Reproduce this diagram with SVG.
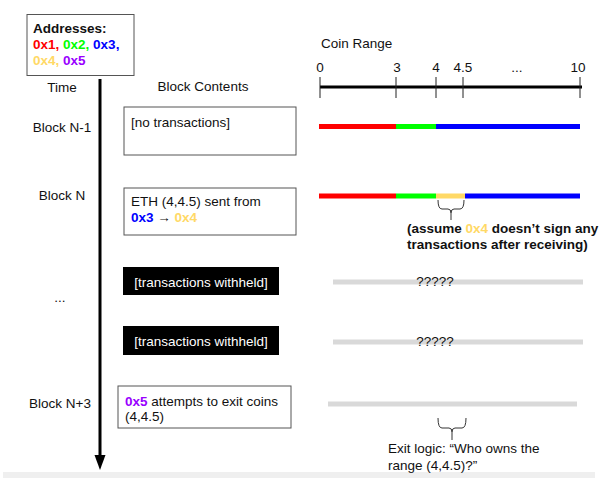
<svg xmlns="http://www.w3.org/2000/svg" width="603" height="478" viewBox="0 0 603 478">
<style>
text{font-family:"Liberation Sans",Arial,sans-serif;font-size:13.5px;fill:#111}
.b{font-weight:bold;font-size:13.5px}
.box{fill:#fff;stroke:#555;stroke-width:1}
.blk{fill:#000}
.wt{fill:#fff}
.red{fill:#ff0000}.grn{fill:#00ff00}.blu{fill:#0000ff}.yel{fill:#ffd966}.pur{fill:#9900ff}
.tick{stroke:#222;stroke-width:1}
.gbar{fill:#d9d9d9}
.brace{fill:none;stroke:#333;stroke-width:1}
</style>
<rect x="3" y="472" width="592" height="6" fill="#efefef"/>
<g id="legend">
<rect class="box" x="27" y="14.5" width="107" height="61" stroke="#444"/>
<text class="b" x="33" y="33">Addresses:</text>
<text class="b" x="33" y="49"><tspan class="red">0x1</tspan><tspan class="red">, </tspan><tspan class="grn">0x2</tspan><tspan class="grn">, </tspan><tspan class="blu">0x3</tspan><tspan class="blu">,</tspan></text>
<text class="b" x="33" y="65"><tspan class="yel">0x4</tspan><tspan class="yel">, </tspan><tspan class="pur">0x5</tspan></text>
</g>
<g id="headers">
<text x="62" y="92" text-anchor="middle">Time</text>
<text x="203" y="91" text-anchor="middle">Block Contents</text>
<text x="321" y="48">Coin Range</text>
</g>
<g id="connectors">
<line x1="100" y1="79" x2="100" y2="457" stroke="#000" stroke-width="3"/>
<polygon points="94.5,455 105.5,455 100,470" fill="#000"/>
</g>
<g id="labels">
<text x="62" y="132" text-anchor="middle">Block N-1</text>
<text x="62" y="200" text-anchor="middle">Block N</text>
<text x="60" y="302" text-anchor="middle">...</text>
<text x="60" y="408" text-anchor="middle">Block N+3</text>
</g>
<g id="block-n-1">
<rect class="box" x="124" y="107" width="172" height="48"/>
<text x="131" y="127">[no transactions]</text>
</g>
<g id="block-n">
<rect class="box" x="124" y="188" width="172" height="47"/>
<text x="131" y="206">ETH (4,4.5) sent from</text>
<text x="131" y="222"><tspan class="b blu">0x3</tspan> → <tspan class="b yel">0x4</tspan></text>
</g>
<g id="withheld-1">
<rect class="blk" x="123" y="267" width="156" height="28"/>
<text class="wt" x="201" y="287" text-anchor="middle">[transactions withheld]</text>
</g>
<g id="withheld-2">
<rect class="blk" x="123" y="326" width="156" height="29"/>
<text class="wt" x="201" y="346" text-anchor="middle">[transactions withheld]</text>
</g>
<g id="block-n3">
<rect class="box" x="118" y="386" width="173" height="42"/>
<text x="125" y="406"><tspan class="b pur">0x5</tspan> attempts to exit coins</text>
<text x="125" y="421">(4,4.5)</text>
</g>
<g id="axis">
<line x1="320" y1="87" x2="582" y2="87" stroke="#000" stroke-width="3"/>
<line class="tick" x1="320" y1="77" x2="320" y2="98"/>
<line class="tick" x1="396" y1="77" x2="396" y2="98"/>
<line class="tick" x1="436" y1="77" x2="436" y2="98"/>
<line class="tick" x1="463" y1="77" x2="463" y2="98"/>
<line class="tick" x1="580" y1="77" x2="580" y2="98"/>
<text x="320" y="72" text-anchor="middle">0</text>
<text x="397" y="72" text-anchor="middle">3</text>
<text x="436" y="72" text-anchor="middle">4</text>
<text x="463" y="72" text-anchor="middle">4.5</text>
<text x="517" y="72" text-anchor="middle">...</text>
<text x="578" y="72" text-anchor="middle">10</text>
</g>
<g id="range-n-1">
<rect class="red" x="319" y="124" width="77" height="5"/>
<rect class="grn" x="396" y="124" width="40" height="5"/>
<rect class="blu" x="436" y="124" width="144" height="5"/>
</g>
<g id="range-n">
<rect class="red" x="319" y="193.5" width="77" height="5"/>
<rect class="grn" x="396" y="193.5" width="40" height="5"/>
<rect class="yel" x="436" y="193.5" width="29" height="5"/>
<rect class="blu" x="465" y="193.5" width="115" height="5"/>
<path class="brace" d="M438,200 Q438,209 442,209 L448,209 Q451,209 451,213 L451,220 M451,213 Q451,209 454,209 L460,209 Q464,209 464,200"/>
<text class="b" x="407" y="233">(assume <tspan class="yel">0x4</tspan> doesn’t sign any</text>
<text class="b" x="407" y="249">transactions after receiving)</text>
</g>
<g id="range-unknown-1">
<rect class="gbar" x="333" y="279.5" width="250" height="5"/>
<text x="435" y="286" text-anchor="middle">?????</text>
</g>
<g id="range-unknown-2">
<rect class="gbar" x="333" y="339.5" width="250" height="5"/>
<text x="435" y="346" text-anchor="middle">?????</text>
</g>
<g id="range-exit">
<rect class="gbar" x="328" y="401.5" width="249" height="5"/>
<path class="brace" d="M438,418 Q438,428 442,428 L449,428 Q452,428 452,432 L452,440 M452,432 Q452,428 455,428 L462,428 Q466,428 466,418"/>
<text x="388" y="453">Exit logic: “Who owns the</text>
<text x="388" y="470">range (4,4.5)?”</text>
</g>
</svg>
